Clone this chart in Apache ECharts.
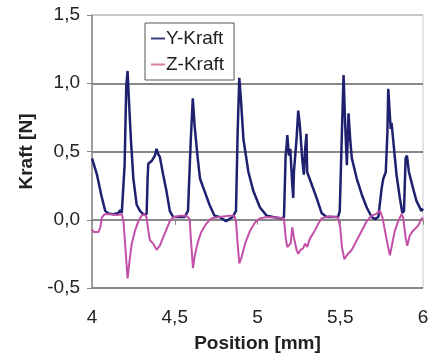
<!DOCTYPE html>
<html>
<head>
    <meta charset="utf-8">
    <script src="https://cdn.jsdelivr.net/npm/echarts@6/dist/echarts.min.js"></script>
</head>
<body style="margin:0">
<div id="main" style="width: 443px; height:358px"></div>
<script type="text/javascript">

    // Y-Kraft, position [mm] and force [N]
    var yPos = [4.0, 4.03, 4.06, 4.08, 4.10, 4.13, 4.16, 4.17, 4.18, 4.19, 4.197, 4.207, 4.215, 4.223, 4.235, 4.25, 4.27, 4.29, 4.31, 4.33, 4.336,
        4.34, 4.35, 4.36, 4.37, 4.38, 4.39, 4.40, 4.41, 4.43, 4.45, 4.47, 4.49, 4.53, 4.56, 4.58, 4.597, 4.609, 4.62, 4.637, 4.653, 4.68,
        4.71, 4.74, 4.77, 4.81, 4.85, 4.87, 4.88, 4.89, 4.90, 4.915, 4.945, 4.975, 5.015, 5.055, 5.095, 5.145, 5.16, 5.17, 5.176, 5.18,
        5.19, 5.198, 5.21, 5.216, 5.22, 5.236, 5.246, 5.256, 5.27, 5.28, 5.288, 5.296, 5.30, 5.327, 5.357, 5.387, 5.417, 5.457, 5.487,
        5.497, 5.51, 5.52, 5.53, 5.54, 5.55, 5.56, 5.57, 5.60, 5.63, 5.66, 5.69, 5.71, 5.73, 5.75, 5.76, 5.775, 5.785, 5.79, 5.805, 5.81,
        5.825, 5.84, 5.86, 5.875, 5.885, 5.895, 5.903, 5.915, 5.94, 5.96, 5.99, 6.0];
    var yVal = [0.45, 0.33, 0.16, 0.065, 0.045, 0.04, 0.05, 0.07, 0.05, 0.06, 0.40, 0.98, 1.09, 0.88, 0.59, 0.30, 0.11, 0.065, 0.04, 0.04, 0.30,
        0.41, 0.40, 0.43, 0.45, 0.47, 0.52, 0.48, 0.46, 0.33, 0.21, 0.065, 0.02, 0.02, 0.02, 0.065, 0.59, 0.89, 0.69, 0.47, 0.30, 0.21,
        0.11, 0.03, 0.02, -0.01, 0.02, 0.065, 0.64, 1.04, 0.88, 0.59, 0.35, 0.21, 0.09, 0.03, 0.02, 0.01, 0.02, 0.47, 0.545, 0.62,
        0.47, 0.52, 0.26, 0.16, 0.35, 0.59, 0.80, 0.69, 0.45, 0.33, 0.52, 0.63, 0.35, 0.26, 0.16, 0.05, 0.02, 0.02, 0.02,
        0.065, 0.64, 1.06, 0.69, 0.40, 0.78, 0.59, 0.45, 0.30, 0.185, 0.09, 0.02, 0.005, 0.02, 0.23, 0.30, 0.35, 0.64, 0.96, 0.665, 0.71,
        0.52, 0.33, 0.16, 0.05, 0.065, 0.45, 0.47, 0.35, 0.23, 0.14, 0.065, 0.08];

    // Z-Kraft
    var zPos = [4.0, 4.01, 4.04, 4.05, 4.06, 4.075, 4.11, 4.15, 4.18, 4.19, 4.20, 4.215, 4.227, 4.24, 4.26, 4.28, 4.30, 4.32, 4.33, 4.34,
        4.35, 4.37, 4.39, 4.41, 4.43, 4.45, 4.47, 4.49, 4.53, 4.57, 4.59, 4.597, 4.61, 4.62, 4.637, 4.66, 4.69, 4.72, 4.77, 4.83, 4.86,
        4.87, 4.88, 4.89, 4.905, 4.925, 4.955, 4.985, 5.015, 5.055, 5.115, 5.16, 5.17, 5.18, 5.19, 5.20, 5.21, 5.22, 5.236, 5.246, 5.26,
        5.275, 5.288, 5.30, 5.316, 5.346, 5.367, 5.387, 5.437, 5.487, 5.50, 5.51, 5.525, 5.54, 5.57, 5.60, 5.63, 5.66, 5.69, 5.72, 5.74,
        5.755, 5.77, 5.785, 5.80, 5.81, 5.83, 5.85, 5.87, 5.88, 5.895, 5.905, 5.92, 5.94, 5.97, 5.99, 6.0];
    var zVal = [-0.07, -0.09, -0.09, -0.055, 0.017, 0.04, 0.04, 0.035, 0.04, -0.01, -0.175, -0.43, -0.30, -0.175, -0.08, -0.01, 0.03, 0.04, 0.017, -0.08,
        -0.15, -0.175, -0.22, -0.19, -0.13, -0.07, -0.01, 0.017, 0.03, 0.03, 0.005, -0.13, -0.355, -0.27, -0.175, -0.09, -0.03, 0.01, 0.02, 0.03, 0.03,
        -0.01, -0.175, -0.32, -0.27, -0.175, -0.08, -0.02, 0.01, 0.02, 0.017, 0.01, -0.13, -0.20, -0.21, -0.175, -0.055, -0.13, -0.22, -0.25, -0.22,
        -0.21, -0.175, -0.20, -0.14, -0.08, -0.03, 0.01, 0.025, 0.017, -0.055, -0.20, -0.29, -0.26, -0.22, -0.15, -0.08, -0.01, 0.03, 0.045, 0.065,
        0.017, -0.08, -0.175, -0.26, -0.20, -0.08, -0.01, 0.04, 0.017, -0.13, -0.19, -0.115, -0.08, -0.045, 0.005, 0.017];

    var xTicks = [4, 4.5, 5, 5.5, 6];
    var yTicks = [-0.5, 0, 0.5, 1.0, 1.5];

    function pairs(xs, vs) {
        var out = [];
        for (var i = 0; i < xs.length; i++) out.push([xs[i], vs[i]]);
        return out;
    }

    var myChart = echarts.init(document.getElementById('main'));
    var option = {
        backgroundColor: '#ffffff',
        animation: false,
        textStyle: {fontFamily: 'Liberation Sans, Arial, sans-serif'},
        grid: {left: 92, right: 20, top: 15, bottom: 66, show: true, borderColor: '#c8c8c8', borderWidth: 1},
        legend: {
            orient: 'vertical', left: 145, top: 23,
            padding: [6, 10, 6, 6], itemGap: 7,
            borderColor: '#555', borderWidth: 1, backgroundColor: '#fff',
            itemWidth: 14, itemHeight: 2, icon: 'rect',
            textStyle: {fontSize: 19, color: '#222', padding: [0, 0, 0, -4]},
            data: ['Y-Kraft', 'Z-Kraft']
        },
        xAxis: {
            type: 'value', min: xTicks[0], max: xTicks[xTicks.length - 1], interval: 0.5,
            name: 'Position [mm]', nameLocation: 'middle', nameGap: 46,
            nameTextStyle: {fontSize: 19, fontWeight: 'bold', color: '#222'},
            axisLine: {lineStyle: {color: '#888', width: 1.5}},
            axisTick: {show: true, length: 5, lineStyle: {color: '#888'}},
            axisLabel: {
                fontSize: 19, color: '#222', margin: 20,
                formatter: function (v) { return String(v).replace('.', ','); }
            },
            splitLine: {show: false}
        },
        yAxis: {
            type: 'value', min: yTicks[0], max: yTicks[yTicks.length - 1], interval: 0.5,
            name: 'Kraft [N]', nameLocation: 'middle', nameGap: 56,
            nameTextStyle: {fontSize: 19, fontWeight: 'bold', color: '#222'},
            axisLine: {show: true, lineStyle: {color: '#888', width: 1.5}},
            axisTick: {show: true, length: 5, lineStyle: {color: '#888'}},
            axisLabel: {
                fontSize: 19, color: '#222', margin: 12,
                formatter: function (v) { return v.toFixed(1).replace('.', ','); }
            },
            splitLine: {
                show: true,
                lineStyle: {
                    color: ['#888', '#888', '#888', '#888', '#c8c8c8'], width: 2
                }
            }
        },
        series: [
            {
                name: 'Y-Kraft', type: 'line', showSymbol: false, symbol: 'none',
                data: pairs(yPos, yVal),
                lineStyle: {color: '#1f2170', width: 2.5}, itemStyle: {color: '#3a3c80'}
            },
            {
                name: 'Z-Kraft', type: 'line', showSymbol: false, symbol: 'none',
                data: pairs(zPos, zVal),
                lineStyle: {color: '#c24fa8', width: 2}, itemStyle: {color: '#d77a9a'}
            }
        ]
    };
    myChart.setOption(option);
</script>
</body>
</html>
